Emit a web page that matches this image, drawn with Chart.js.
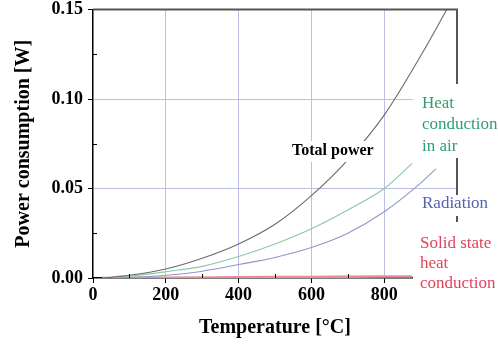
<!DOCTYPE html>
<html><head><meta charset="utf-8">
<script src="https://cdn.jsdelivr.net/npm/chart.js@4/dist/chart.umd.min.js"></script>
<style>html,body{margin:0;padding:0;background:#fff}#wrap{width:498px;height:345px;position:relative}</style>
</head><body><div id="wrap"><canvas id="c" width="498" height="345"></canvas></div>
<script>
// Data
const totalT = [25, 100, 200, 300, 400, 500, 600, 700, 800, 900, 972];
const totalW = [0, 0.0015, 0.005, 0.011, 0.019, 0.030, 0.046, 0.066, 0.091, 0.124, 0.150];
const airT = [25, 100, 200, 300, 400, 500, 600, 700, 800, 877];
const airW = [0, 0.001, 0.0035, 0.0065, 0.012, 0.019, 0.0275, 0.038, 0.050, 0.064];
const radT = [25, 100, 200, 300, 400, 500, 600, 700, 800, 900, 942];
const radW = [0, 0.0003, 0.0015, 0.0038, 0.0075, 0.0115, 0.017, 0.025, 0.037, 0.053, 0.061];
const solidT = [25, 200, 400, 600, 800, 877];
const solidW = [0, 0.0002, 0.0004, 0.0006, 0.0008, 0.0009];
const xTickLabels = ['0', '200', '400', '600', '800'];
const yTickLabels = ['0.00', '0.05', '0.10', '0.15'];

const pts = (xs, ys) => xs.map((x, i) => ({x: x, y: ys[i]}));
const SERIF = "'Liberation Serif','Times New Roman',serif";
const GRID = '#bcc0e6';

const framePlugin = {
  id: 'frame',
  afterDatasetsDraw(chart) {
    const ctx = chart.ctx, a = chart.chartArea;
    const xs = chart.scales.x, ys = chart.scales.y;
    ctx.save();
    ctx.strokeStyle = '#000'; ctx.lineWidth = 1;
    [100, 300, 500, 700].forEach(v => {
      const px = Math.round(xs.getPixelForValue(v)) + 0.5;
      ctx.beginPath(); ctx.moveTo(px, a.bottom); ctx.lineTo(px, a.bottom - 4); ctx.stroke();
    });
    [0.025, 0.075, 0.125].forEach(v => {
      const py = Math.round(ys.getPixelForValue(v)) + 0.5;
      ctx.beginPath(); ctx.moveTo(a.left, py); ctx.lineTo(a.left + 4, py); ctx.stroke();
    });
    ctx.strokeStyle = '#555'; ctx.lineWidth = 2;
    ctx.beginPath();
    ctx.moveTo(a.left, a.top); ctx.lineTo(a.right, a.top); ctx.lineTo(a.right, a.bottom);
    ctx.stroke();
    ctx.restore();
  },
  afterDraw(chart) {
    const ctx = chart.ctx;
    ctx.save();
    ctx.fillStyle = '#fff';
    ctx.fillRect(413, 84, 85, 74);
    ctx.fillRect(413, 195, 85, 21);
    ctx.fillRect(413, 222, 85, 80);
    ctx.fillRect(289, 141, 90, 21);
    ctx.textBaseline = 'middle';
    ctx.textAlign = 'left';
    ctx.font = 'bold 16px ' + SERIF;
    ctx.fillStyle = '#000';
    ctx.fillText('Total power', 292, 151);
    ctx.font = '17px ' + SERIF;
    ctx.fillStyle = '#2f9e6c';
    ctx.fillText('Heat', 422, 104);
    ctx.fillText('conduction', 422, 125);
    ctx.fillText('in air', 422, 147);
    ctx.fillStyle = '#5561b0';
    ctx.fillText('Radiation', 422, 204);
    ctx.fillStyle = '#e0435a';
    ctx.fillText('Solid state', 420, 244);
    ctx.fillText('heat', 420, 264);
    ctx.fillText('conduction', 420, 284);
    ctx.restore();
  }
};

new Chart(document.getElementById('c'), {
  type: 'line',
  data: {
    datasets: [
      {label: 'Total power', data: pts(totalT, totalW), borderColor: '#6a6a6a', borderWidth: 1.1},
      {label: 'Heat conduction in air', data: pts(airT, airW), borderColor: '#86c9a6', borderWidth: 1.1},
      {label: 'Radiation', data: pts(radT, radW), borderColor: '#9096cc', borderWidth: 1.1},
      {label: 'Solid state heat conduction', data: pts(solidT, solidW), borderColor: '#ec8d96', borderWidth: 2.5}
    ]
  },
  options: {
    responsive: false,
    animation: false,
    events: [],
    layout: {padding: {left: 2, right: 41, top: 4, bottom: 0}},
    elements: {point: {radius: 0}, line: {cubicInterpolationMode: 'monotone', fill: false}},
    plugins: {legend: {display: false}, tooltip: {enabled: false}},
    scales: {
      x: {
        type: 'linear', min: 0, max: 1000,
        afterFit: s => { s.height = 67; },
        ticks: {
          stepSize: 100, autoSkip: false, maxRotation: 0, padding: 3,
          color: '#000', font: {family: SERIF, size: 18, weight: 'bold', lineHeight: 1.0},
          callback: (v) => (v % 200 === 0 && v <= 800) ? xTickLabels[v / 200] : ''
        },
        grid: {
          drawTicks: true, tickLength: 5,
          color: c => (c.tick && c.tick.value % 200 === 0 && c.tick.value > 0 && c.tick.value < 1000) ? GRID : 'rgba(0,0,0,0)',
          tickColor: c => (c.tick && c.tick.value % 200 === 0 && c.tick.value <= 800) ? '#000' : 'rgba(0,0,0,0)',
          lineWidth: 1
        },
        border: {color: '#000', width: 1.5},
        title: {display: true, text: 'Temperature [°C]', color: '#000',
          font: {family: SERIF, size: 20, weight: 'bold'}, padding: {top: 0, bottom: 5}}
      },
      y: {
        type: 'linear', min: 0, max: 0.15,
        afterFit: s => { s.width = 91; },
        ticks: {
          stepSize: 0.025, autoSkip: false, padding: 5,
          color: '#000', font: {family: SERIF, size: 18, weight: 'bold', lineHeight: 0.5},
          callback: (v, i) => (i % 2 === 0) ? yTickLabels[i / 2] : ''
        },
        grid: {
          drawTicks: true, tickLength: 5,
          color: c => (c.index === 2 || c.index === 4) ? GRID : 'rgba(0,0,0,0)',
          tickColor: c => (c.index % 2 === 0) ? '#000' : 'rgba(0,0,0,0)',
          lineWidth: 1
        },
        border: {color: '#000', width: 1.5},
        title: {display: true, text: 'Power consumption [W]', color: '#000',
          font: {family: SERIF, size: 20, weight: 'bold'}, padding: {top: 10, bottom: 0}}
      }
    }
  },
  plugins: [framePlugin]
});
</script></body></html>
